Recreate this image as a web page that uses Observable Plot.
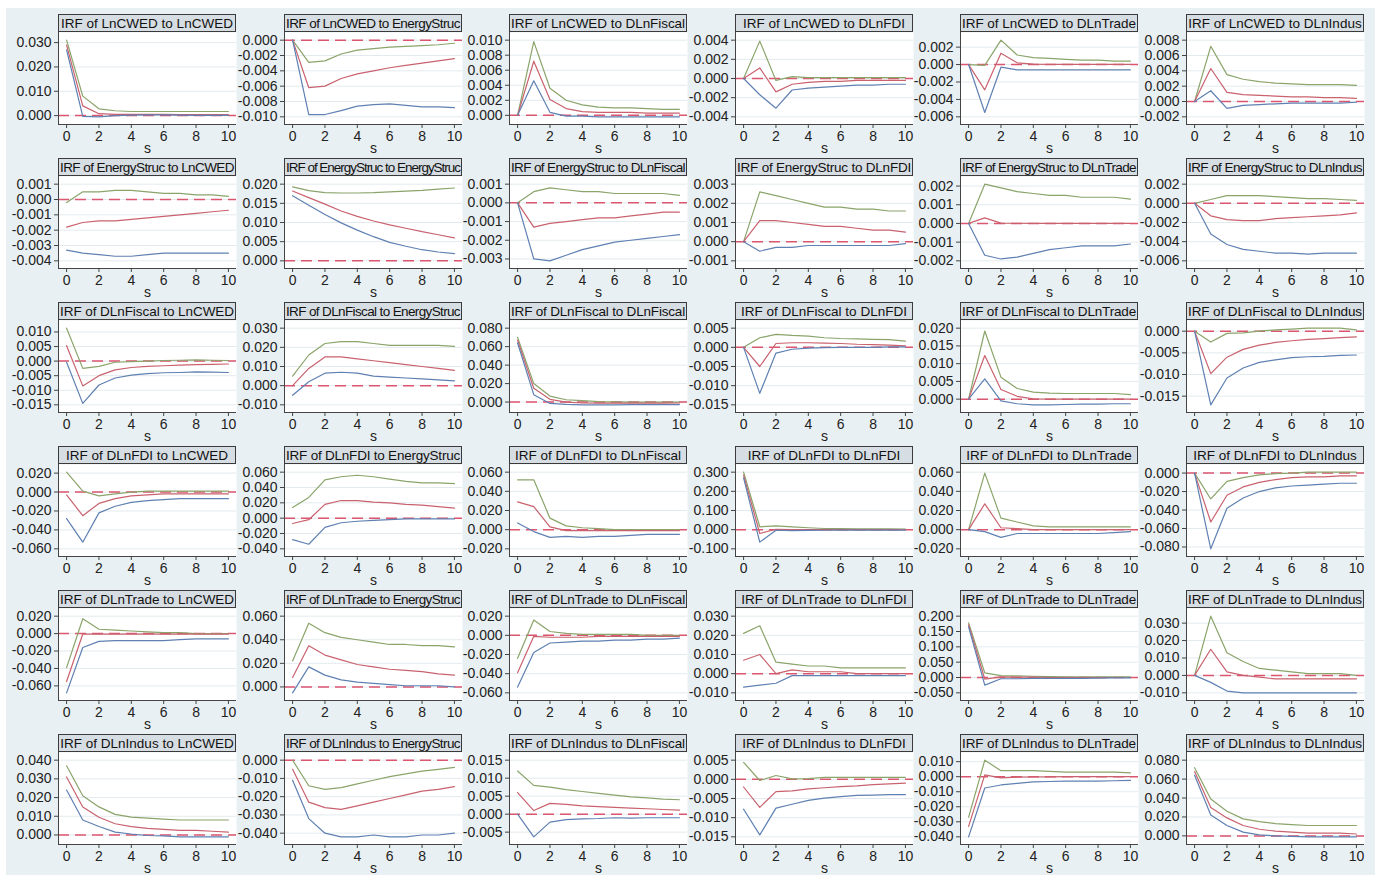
<!DOCTYPE html>
<html><head><meta charset="utf-8">
<script src="https://cdn.jsdelivr.net/npm/d3@7"></script>
<script src="https://cdn.jsdelivr.net/npm/@observablehq/plot@0.6"></script>
<style>
body{margin:0;background:#fff;font-family:"Liberation Sans Narrow","Liberation Sans",Arial,sans-serif;}
#fig{position:absolute;left:6px;top:8px;width:1369px;height:867px;background:#e9f0f3;}
.ttl{position:absolute;height:18px;background:#d7dee3;border:1px solid #3a3a3a;box-sizing:border-box;display:flex;justify-content:center;align-items:center;overflow:hidden;font-size:13.5px;color:#111;}
.ttl span{white-space:nowrap;flex-shrink:0;}
.pn{position:absolute;}
</style></head><body><div id="fig"></div>
<script>
const variables = ["LnCWED","EnergyStruc","DLnFiscal","DLnFDI","DLnTrade","DLnIndus"];
const steps = [0,1,2,3,4,5,6,7,8,9,10];
const xTicks = [0,2,4,6,8,10];
const seriesNames = ["upper","irf","lower"];

// ---- response LnCWED (rows: impulse LnCWED, EnergyStruc, DLnFiscal, DLnFDI, DLnTrade, DLnIndus)
const upper_LnCWED = [
 [0.031,0.008,0.0028,0.0020,0.0017,0.0017,0.0017,0.0017,0.0017,0.0017,0.0017],
 [0,-0.0029,-0.0027,-0.0018,-0.0013,-0.0011,-0.0009,-0.0008,-0.0007,-0.0006,-0.0004],
 [0,0.0098,0.0036,0.0020,0.0014,0.0011,0.0010,0.0010,0.0009,0.0008,0.0008],
 [0,0.0039,-0.0002,0.0002,0.0001,0.0001,0.0001,0.0001,0.0001,0.0001,0.0001],
 [0,-0.0001,0.0028,0.0011,0.0008,0.0007,0.0006,0.0005,0.0005,0.0004,0.0004],
 [0,0.0072,0.0035,0.0029,0.0026,0.0024,0.0023,0.0022,0.0022,0.0022,0.0021]
];
const irf_LnCWED = [
 [0.029,0.004,0.0008,0.0005,0.0005,0.0005,0.0005,0.0004,0.0004,0.0004,0.0004],
 [0,-0.0062,-0.0060,-0.0050,-0.0044,-0.0040,-0.0036,-0.0033,-0.0030,-0.0027,-0.0024],
 [0,0.0072,0.0021,0.0009,0.0005,0.0004,0.0004,0.0004,0.0003,0.0003,0.0003],
 [0,0.0011,-0.0014,-0.0006,-0.0004,-0.0003,-0.0003,-0.0002,-0.0002,-0.0002,-0.0002],
 [0,-0.0029,0.0013,0.0002,0.00005,0.00003,0.00002,0.00002,0.00001,0.00001,0.00001],
 [0,0.0043,0.0012,0.0009,0.0008,0.0007,0.0006,0.0006,0.0005,0.0005,0.0004]
];
const lower_LnCWED = [
 [0.027,-0.0003,-0.0005,0,0.0002,0.0003,0.0003,0.0002,0.0001,0.0001,0.0001],
 [0,-0.0097,-0.0097,-0.0092,-0.0086,-0.0084,-0.0083,-0.0085,-0.0087,-0.0087,-0.0088],
 [0,0.0046,0.0004,-0.0001,-0.0001,-0.0002,-0.0002,-0.0002,-0.0002,-0.0002,-0.0002],
 [0,-0.0017,-0.0031,-0.0012,-0.0010,-0.0009,-0.0008,-0.0007,-0.0007,-0.0006,-0.0006],
 [0,-0.0055,-0.0003,-0.0006,-0.0006,-0.0006,-0.0006,-0.0006,-0.0006,-0.0006,-0.0006],
 [0,0.0014,-0.0009,-0.0005,-0.0004,-0.0003,-0.0002,-0.0002,-0.0002,-0.0002,-0.0001]
];
const ticks_LnCWED = [[0,0.01,0.02,0.03],[-0.010,-0.008,-0.006,-0.004,-0.002,0],[0,0.002,0.004,0.006,0.008,0.010],[-0.004,-0.002,0,0.002,0.004],[-0.006,-0.004,-0.002,0,0.002],[-0.002,0,0.002,0.004,0.006,0.008]];

// ---- response EnergyStruc
const upper_EnergyStruc = [
 [-0.0002,0.0005,0.0005,0.0006,0.0006,0.0005,0.0004,0.0004,0.0003,0.0003,0.0002],
 [0.0193,0.0183,0.0178,0.0177,0.0177,0.0178,0.0180,0.0182,0.0184,0.0187,0.0190],
 [0,0.0006,0.0008,0.0007,0.0006,0.0006,0.0005,0.0005,0.0005,0.0005,0.0004],
 [0,0.0026,0.0024,0.0022,0.0020,0.0018,0.0018,0.0017,0.0017,0.0016,0.0016],
 [0,0.0021,0.0019,0.0017,0.0016,0.0015,0.0015,0.0014,0.0014,0.0014,0.0013],
 [0,0.0004,0.0008,0.0008,0.0008,0.0007,0.0006,0.0005,0.0005,0.0004,0.0003]
];
const irf_EnergyStruc = [
 [-0.0018,-0.0015,-0.0014,-0.0014,-0.0013,-0.0012,-0.0011,-0.0010,-0.0009,-0.0008,-0.0007],
 [0.0182,0.0165,0.0148,0.0130,0.0116,0.0104,0.0094,0.0085,0.0076,0.0068,0.0060],
 [0,-0.0013,-0.0011,-0.0010,-0.0009,-0.0008,-0.0008,-0.0007,-0.0006,-0.0005,-0.0005],
 [0,0.0011,0.0011,0.0010,0.0009,0.0008,0.0008,0.0007,0.0006,0.0006,0.0005],
 [0,0.0003,0.00002,0.00001,0,0,0,0,0,0,0],
 [0,-0.0013,-0.0017,-0.0018,-0.0018,-0.0016,-0.0015,-0.0014,-0.0013,-0.0012,-0.0010]
];
const lower_EnergyStruc = [
 [-0.0033,-0.0035,-0.0036,-0.0037,-0.0037,-0.0036,-0.0035,-0.0035,-0.0035,-0.0035,-0.0035],
 [0.0170,0.0145,0.0121,0.0099,0.0080,0.0063,0.0048,0.0038,0.0029,0.0023,0.0019],
 [0,-0.0030,-0.0031,-0.0028,-0.0025,-0.0023,-0.0021,-0.0020,-0.0019,-0.0018,-0.0017],
 [0,-0.0005,-0.0003,-0.0003,-0.0002,-0.0002,-0.0002,-0.0002,-0.0002,-0.0002,-0.0001],
 [0,-0.0017,-0.0019,-0.0018,-0.0016,-0.0014,-0.0013,-0.0012,-0.0012,-0.0012,-0.0011],
 [0,-0.0032,-0.0043,-0.0048,-0.0050,-0.0052,-0.0052,-0.0053,-0.0052,-0.0052,-0.0052]
];
const ticks_EnergyStruc = [[-0.004,-0.003,-0.002,-0.001,0,0.001],[0,0.005,0.010,0.015,0.020],[-0.003,-0.002,-0.001,0,0.001],[-0.001,0,0.001,0.002,0.003],[-0.002,-0.001,0,0.001,0.002],[-0.006,-0.004,-0.002,0,0.002]];

// ---- response DLnFiscal
const upper_DLnFiscal = [
 [0.0113,-0.0025,-0.0018,-0.0004,-0.0002,0,0.0002,0.0003,0.0004,0.0003,0.0002],
 [0.005,0.016,0.022,0.023,0.023,0.022,0.021,0.021,0.021,0.021,0.0205],
 [0.070,0.020,0.0065,0.0025,0.0015,0.0005,0.0002,0,0,0,0],
 [0,0.0025,0.0034,0.0031,0.0029,0.0025,0.0023,0.0022,0.0021,0.0020,0.0016],
 [0,0.0192,0.0062,0.0030,0.0020,0.0017,0.0016,0.0016,0.0016,0.0016,0.0013],
 [0,-0.0025,-0.0005,-0.0004,0,0.0003,0.0005,0.0007,0.0007,0.0007,0.0003]
];
const irf_DLnFiscal = [
 [0.0053,-0.0085,-0.0050,-0.0030,-0.0022,-0.0018,-0.0016,-0.0014,-0.0012,-0.0011,-0.0010],
 [0,0.009,0.015,0.015,0.014,0.013,0.012,0.011,0.010,0.009,0.008],
 [0.067,0.015,0.003,0,-0.001,-0.0012,-0.0012,-0.0012,-0.0011,-0.0011,-0.001],
 [0,-0.0050,0.0010,0.0012,0.0012,0.0011,0.0010,0.0008,0.0007,0.0006,0.0004],
 [0,0.0123,0.0027,0.0008,0.0001,0,0,0,0,0,0],
 [0,-0.0098,-0.0060,-0.0042,-0.0032,-0.0026,-0.0022,-0.0019,-0.0017,-0.0015,-0.0013]
];
const lower_DLnFiscal = [
 [-0.0004,-0.0145,-0.0082,-0.0058,-0.0048,-0.0043,-0.0040,-0.0039,-0.0037,-0.0038,-0.0039],
 [-0.005,0.002,0.0065,0.007,0.0065,0.005,0.0045,0.004,0.0035,0.003,0.0025],
 [0.064,0.008,-0.0015,-0.0025,-0.0030,-0.0030,-0.0030,-0.0028,-0.0028,-0.0028,-0.0027],
 [0,-0.0120,-0.0015,-0.0005,-0.0002,-0.0001,0,0,0,0.0001,0.0001],
 [0,0.0057,-0.0005,-0.0013,-0.0016,-0.0016,-0.0015,-0.0014,-0.0014,-0.0013,-0.0013],
 [0,-0.0170,-0.0108,-0.0085,-0.0072,-0.0066,-0.0061,-0.0059,-0.0058,-0.0056,-0.0055]
];
const ticks_DLnFiscal = [[-0.015,-0.010,-0.005,0,0.005,0.010],[-0.010,0,0.010,0.020,0.030],[0,0.020,0.040,0.060,0.080],[-0.015,-0.010,-0.005,0,0.005],[0,0.005,0.010,0.015,0.020],[-0.015,-0.010,-0.005,0]];

// ---- response DLnFDI
const upper_DLnFDI = [
 [0.021,0.001,-0.004,-0.002,0,0.001,0.001,0.001,0.001,0.001,0.001],
 [0.014,0.027,0.050,0.054,0.056,0.054,0.051,0.048,0.046,0.046,0.045],
 [0.052,0.052,0.012,0.004,0.002,0.001,0,0,0,0,0],
 [0.300,0.015,0.020,0.015,0.010,0.006,0.005,0.004,0.004,0.004,0.003],
 [0,0.059,0.012,0.008,0.004,0.003,0.003,0.003,0.003,0.003,0.003],
 [0,-0.028,-0.009,-0.005,-0.002,-0.0005,0,0.001,0.001,0.001,0.001]
];
const irf_DLnFDI = [
 [-0.003,-0.025,-0.012,-0.007,-0.004,-0.003,-0.002,-0.002,-0.002,-0.002,-0.002],
 [-0.007,-0.002,0.018,0.023,0.023,0.021,0.020,0.018,0.017,0.015,0.013],
 [0.029,0.024,0.003,-0.001,-0.001,-0.001,-0.001,-0.001,-0.001,-0.001,-0.001],
 [0.285,-0.020,0.002,0,0,0,0,0,0,0,0],
 [0,0.027,0.002,0.001,0,0,0,0,0,0,0],
 [0,-0.053,-0.024,-0.015,-0.010,-0.007,-0.005,-0.004,-0.004,-0.003,-0.003]
];
const lower_DLnFDI = [
 [-0.028,-0.053,-0.022,-0.015,-0.011,-0.009,-0.008,-0.007,-0.007,-0.007,-0.007],
 [-0.028,-0.034,-0.012,-0.006,-0.004,-0.003,-0.002,-0.001,-0.001,-0.001,-0.001],
 [0.007,-0.002,-0.008,-0.007,-0.008,-0.007,-0.007,-0.006,-0.005,-0.005,-0.005],
 [0.270,-0.065,-0.003,-0.005,-0.004,-0.003,-0.002,-0.002,-0.002,-0.002,-0.002],
 [0,-0.002,-0.008,-0.004,-0.004,-0.004,-0.004,-0.004,-0.004,-0.003,-0.002],
 [0,-0.082,-0.038,-0.027,-0.020,-0.016,-0.014,-0.013,-0.012,-0.011,-0.011]
];
const ticks_DLnFDI = [[-0.060,-0.040,-0.020,0,0.020],[-0.040,-0.020,0,0.020,0.040,0.060],[-0.020,0,0.020,0.040,0.060],[-0.100,0,0.100,0.200,0.300],[-0.020,0,0.020,0.040,0.060],[-0.080,-0.060,-0.040,-0.020,0]];

// ---- response DLnTrade
const upper_DLnTrade = [
 [-0.039,0.017,0.005,0.004,0.003,0.002,0.001,0.001,0,0,0],
 [0.022,0.054,0.046,0.042,0.040,0.038,0.036,0.036,0.035,0.035,0.034],
 [-0.024,0.016,0.004,0.002,0.001,0.001,0.001,0.001,0,0,0],
 [0.021,0.025,0.006,0.005,0.004,0.004,0.003,0.003,0.003,0.003,0.003],
 [0.178,0.015,0.006,0.005,0.004,0.003,0.002,0.002,0.002,0.002,0.002],
 [0,0.034,0.013,0.008,0.004,0.003,0.002,0.001,0.001,0.001,0]
];
const irf_DLnTrade = [
 [-0.055,-0.0005,-0.0005,-0.0005,-0.0005,-0.0005,-0.0005,-0.0005,-0.0005,-0.0005,-0.0005],
 [0.008,0.035,0.027,0.023,0.019,0.017,0.015,0.014,0.013,0.011,0.010],
 [-0.039,-0.001,-0.002,-0.002,-0.002,-0.001,-0.001,-0.001,-0.001,-0.001,-0.001],
 [0.007,0.010,0,0.002,0.001,0.001,0.001,0,0,0,0],
 [0.172,-0.005,0.002,0.001,0.001,0,0,0,0,0,0],
 [0,0.015,0.002,0,-0.001,-0.002,-0.002,-0.002,-0.002,-0.002,-0.002]
];
const lower_DLnTrade = [
 [-0.068,-0.016,-0.009,-0.008,-0.008,-0.008,-0.008,-0.007,-0.006,-0.006,-0.006],
 [-0.005,0.017,0.010,0.006,0.004,0.003,0.002,0.001,0.001,0.001,0],
 [-0.054,-0.018,-0.008,-0.007,-0.006,-0.006,-0.005,-0.005,-0.004,-0.004,-0.003],
 [-0.007,-0.006,-0.005,-0.001,-0.001,-0.001,-0.001,-0.001,-0.001,-0.001,-0.001],
 [0.165,-0.025,-0.004,-0.004,-0.003,-0.003,-0.003,-0.003,-0.002,-0.001,-0.001],
 [0,-0.004,-0.009,-0.010,-0.010,-0.010,-0.010,-0.010,-0.010,-0.010,-0.010]
];
const ticks_DLnTrade = [[-0.060,-0.040,-0.020,0,0.020],[0,0.020,0.040,0.060],[-0.060,-0.040,-0.020,0,0.020],[-0.010,0,0.010,0.020,0.030],[-0.050,0,0.050,0.100,0.150,0.200],[-0.010,0,0.010,0.020,0.030]];

// ---- response DLnIndus
const upper_DLnIndus = [
 [0.037,0.021,0.015,0.011,0.0095,0.009,0.0085,0.008,0.008,0.008,0.008],
 [0,-0.014,-0.016,-0.015,-0.013,-0.011,-0.009,-0.0075,-0.006,-0.005,-0.004],
 [0.012,0.008,0.0075,0.0068,0.0063,0.0058,0.0053,0.0048,0.0045,0.0042,0.0040],
 [0.0044,-0.0003,0.0010,0.0001,0.0002,0.0005,0.0005,0.0005,0.0005,0.0005,0.0005],
 [-0.027,0.011,0.004,0.004,0.004,0.0035,0.003,0.003,0.003,0.003,0.0025],
 [0.072,0.039,0.026,0.018,0.015,0.013,0.012,0.011,0.011,0.011,0.011]
];
const irf_DLnIndus = [
 [0.031,0.015,0.0095,0.006,0.0045,0.0035,0.003,0.0025,0.0025,0.002,0.0015],
 [-0.005,-0.023,-0.026,-0.027,-0.025,-0.023,-0.021,-0.019,-0.017,-0.016,-0.0145],
 [0.006,0.001,0.003,0.0027,0.0023,0.0021,0.0019,0.0017,0.0015,0.0013,0.0011],
 [-0.0020,-0.0073,-0.0032,-0.0030,-0.0025,-0.0022,-0.0019,-0.0017,-0.0014,-0.0012,-0.0010],
 [-0.033,0.0012,-0.0008,-0.0003,-0.0002,-0.0001,0,0,0,0,0],
 [0.068,0.030,0.019,0.011,0.007,0.005,0.004,0.003,0.003,0.003,0.002]
];
const lower_DLnIndus = [
 [0.024,0.008,0.0045,0.0015,0.0005,-0.0003,-0.0005,-0.001,-0.001,-0.001,-0.001],
 [-0.011,-0.032,-0.040,-0.042,-0.042,-0.041,-0.042,-0.042,-0.041,-0.041,-0.040],
 [0,-0.0063,-0.0022,-0.0015,-0.0013,-0.0012,-0.0010,-0.0011,-0.0010,-0.0010,-0.0010],
 [-0.0078,-0.0145,-0.0075,-0.0065,-0.0055,-0.0049,-0.0045,-0.0042,-0.0041,-0.0040,-0.0040],
 [-0.040,-0.0075,-0.0055,-0.0045,-0.0035,-0.0032,-0.003,-0.003,-0.003,-0.0027,-0.0025],
 [0.064,0.022,0.011,0.004,0.001,0,-0.0005,-0.001,-0.001,-0.001,-0.001]
];
const ticks_DLnIndus = [[0,0.010,0.020,0.030,0.040],[-0.040,-0.030,-0.020,-0.010,0],[-0.005,0,0.005,0.010,0.015],[-0.015,-0.010,-0.005,0,0.005],[-0.040,-0.030,-0.020,-0.010,0,0.010],[0,0.020,0.040,0.060,0.080]];

const responses = {
  LnCWED: [upper_LnCWED, irf_LnCWED, lower_LnCWED, ticks_LnCWED],
  EnergyStruc: [upper_EnergyStruc, irf_EnergyStruc, lower_EnergyStruc, ticks_EnergyStruc],
  DLnFiscal: [upper_DLnFiscal, irf_DLnFiscal, lower_DLnFiscal, ticks_DLnFiscal],
  DLnFDI: [upper_DLnFDI, irf_DLnFDI, lower_DLnFDI, ticks_DLnFDI],
  DLnTrade: [upper_DLnTrade, irf_DLnTrade, lower_DLnTrade, ticks_DLnTrade],
  DLnIndus: [upper_DLnIndus, irf_DLnIndus, lower_DLnIndus, ticks_DLnIndus]
};

const colLeft = [52, 278, 503, 729, 954, 1180];
const rowTop = [6, 150, 294, 438, 582, 726];
const plotW = 178, plotH = 92, mL = 46, mR = 1, mB = 34;
const fmt = d => (Math.abs(d) < 1e-12 ? 0 : d).toFixed(3);
const fig = document.getElementById("fig");
const FONT = "'Liberation Sans Narrow', 'Liberation Sans', Arial, sans-serif";

variables.forEach((resp, r) => {
  const [up, ir, lo, tk] = responses[resp];
  variables.forEach((imp, c) => {
    const rows = [];
    [up, ir, lo].forEach((arr, k) => arr[c].forEach((v, i) => rows.push({s: steps[i], v, series: seriesNames[k]})));
    const yt = tk[c];
    const vals = rows.map(d => d.v).concat(yt);
    let ymin = d3.min(vals), ymax = d3.max(vals);
    const pad = (ymax - ymin) * 0.1;
    ymin -= pad; ymax += pad;

    const t = document.createElement("div");
    t.className = "ttl";
    t.style.left = colLeft[c] + "px";
    t.style.top = rowTop[r] + "px";
    t.style.width = plotW + "px";
    const sp = document.createElement("span");
    sp.textContent = `IRF of ${resp} to ${imp}`;
    t.appendChild(sp);
    fig.appendChild(t);
    const w = sp.getBoundingClientRect().width;
    if (w > plotW - 4) {
      sp.style.letterSpacing = (-(w - (plotW - 4)) / sp.textContent.length) + "px";
    }

    const svg = Plot.plot({
      width: mL + plotW + mR, height: plotH + mB,
      marginLeft: mL, marginRight: mR, marginTop: 0, marginBottom: mB,
      style: {background: "transparent", fontFamily: FONT, fontSize: "14px", color: "#222", overflow: "visible"},
      x: {domain: [-0.5, 10.5]},
      y: {domain: [ymin, ymax]},
      color: {domain: seriesNames, range: ["#8aa46a", "#c9626e", "#5f80b2"]},
      marks: [
        Plot.frame({fill: "white", stroke: "none"}),
        Plot.ruleY(yt, {stroke: "#e3eaee", strokeWidth: 1}),
        Plot.ruleY([0], {stroke: "#dc5670", strokeWidth: 1.5, strokeDasharray: "11,6"}),
        Plot.line(rows, {x: "s", y: "v", z: "series", stroke: "series", strokeWidth: 1.2}),
        Plot.ruleX([-0.5], {stroke: "#444", strokeWidth: 1}),
        Plot.ruleY([ymin], {stroke: "#444", strokeWidth: 1}),
        Plot.axisY({ticks: yt, tickFormat: fmt, tickSize: 4, tickPadding: 3, label: null, stroke: "#444"}),
        Plot.axisX({ticks: xTicks, tickSize: 4, tickPadding: 3, label: "s", labelAnchor: "center", labelArrow: "none", labelOffset: 28, stroke: "#444"})
      ]
    });
    svg.classList.add("pn");
    svg.style.left = (colLeft[c] - mL) + "px";
    svg.style.top = (rowTop[r] + 18) + "px";
    fig.appendChild(svg);
  });
});
</script>
</body></html>
